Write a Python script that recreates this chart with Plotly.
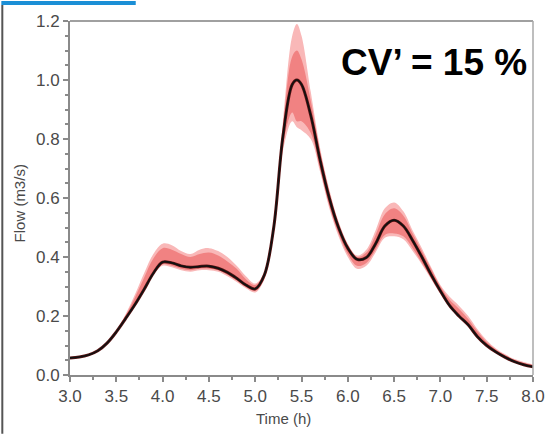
import plotly.graph_objects as go

# ---- data ----
time_h = [3.0, 3.1, 3.2, 3.3, 3.4, 3.5, 3.6, 3.7, 3.8, 3.9,
          4.0, 4.1, 4.2, 4.3, 4.4, 4.5, 4.6, 4.7, 4.8, 4.9,
          5.0, 5.1, 5.2, 5.3, 5.4, 5.45, 5.5, 5.6, 5.7, 5.8, 5.9,
          6.0, 6.1, 6.2, 6.3, 6.4, 6.5, 6.6, 6.7, 6.8, 6.9,
          7.0, 7.1, 7.2, 7.3, 7.4, 7.5, 7.6, 7.7, 7.8, 7.9, 8.0]

flow_mean = [0.058, 0.061, 0.068, 0.082, 0.108, 0.146, 0.191, 0.238, 0.290, 0.345,
             0.383, 0.380, 0.370, 0.365, 0.368, 0.369, 0.362, 0.348, 0.328, 0.305,
             0.292, 0.340, 0.500, 0.810, 0.985, 1.000, 0.985, 0.880, 0.730, 0.600, 0.500,
             0.430, 0.392, 0.398, 0.445, 0.505, 0.525, 0.505, 0.456, 0.400, 0.340,
             0.285, 0.235, 0.200, 0.170, 0.130, 0.100, 0.078, 0.060, 0.045, 0.035, 0.028]

upper_outer = [0.058, 0.061, 0.068, 0.083, 0.110, 0.151, 0.206, 0.272, 0.345, 0.410,
               0.445, 0.440, 0.420, 0.410, 0.425, 0.430, 0.420, 0.400, 0.370, 0.335,
               0.310, 0.350, 0.520, 0.860, 1.150, 1.190, 1.150, 0.960, 0.770, 0.630, 0.520,
               0.445, 0.405, 0.425, 0.490, 0.565, 0.585, 0.555, 0.490, 0.430, 0.365,
               0.305, 0.265, 0.235, 0.200, 0.155, 0.118, 0.090, 0.070, 0.054, 0.044, 0.036]

upper_inner = [0.058, 0.061, 0.068, 0.082, 0.109, 0.149, 0.201, 0.262, 0.330, 0.395,
               0.430, 0.425, 0.410, 0.400, 0.410, 0.415, 0.405, 0.385, 0.360, 0.325,
               0.305, 0.345, 0.510, 0.840, 1.080, 1.100, 1.070, 0.930, 0.760, 0.620, 0.510,
               0.440, 0.400, 0.415, 0.475, 0.545, 0.565, 0.540, 0.480, 0.420, 0.360,
               0.300, 0.255, 0.225, 0.190, 0.148, 0.112, 0.086, 0.067, 0.051, 0.041, 0.034]

lower_inner = [0.058, 0.061, 0.068, 0.082, 0.108, 0.145, 0.191, 0.238, 0.290, 0.345,
               0.375, 0.370, 0.360, 0.355, 0.360, 0.360, 0.355, 0.340, 0.320, 0.298,
               0.285, 0.330, 0.490, 0.780, 0.890, 0.860, 0.860, 0.820, 0.700, 0.575, 0.480,
               0.410, 0.370, 0.380, 0.425, 0.475, 0.480, 0.470, 0.430, 0.380, 0.330,
               0.280, 0.232, 0.197, 0.166, 0.127, 0.098, 0.076, 0.058, 0.044, 0.034, 0.027]

lower_outer = [0.057, 0.060, 0.067, 0.081, 0.107, 0.144, 0.189, 0.235, 0.285, 0.340,
               0.370, 0.365, 0.355, 0.350, 0.355, 0.355, 0.350, 0.335, 0.315, 0.294,
               0.280, 0.325, 0.480, 0.760, 0.860, 0.840, 0.830, 0.800, 0.690, 0.565, 0.470,
               0.400, 0.360, 0.370, 0.415, 0.465, 0.470, 0.460, 0.420, 0.375, 0.325,
               0.275, 0.230, 0.195, 0.163, 0.125, 0.096, 0.074, 0.057, 0.043, 0.033, 0.026]

x_ticks = [3.0, 3.5, 4.0, 4.5, 5.0, 5.5, 6.0, 6.5, 7.0, 7.5, 8.0]
y_ticks = [0.0, 0.2, 0.4, 0.6, 0.8, 1.0, 1.2]
annotation_text = "CV\u2019 = 15 %"

FONT = "Liberation Sans, Arial, sans-serif"

fig = go.Figure()

# outer (pale) band
fig.add_trace(go.Scatter(x=time_h, y=lower_outer, mode="lines",
                         line=dict(width=0, shape="spline"), showlegend=False, hoverinfo="skip"))
fig.add_trace(go.Scatter(x=time_h, y=upper_outer, mode="lines", fill="tonexty",
                         fillcolor="#f9b8b8",
                         line=dict(width=0, shape="spline"), showlegend=False, hoverinfo="skip"))
# inner (darker) band
fig.add_trace(go.Scatter(x=time_h, y=lower_inner, mode="lines",
                         line=dict(width=0, shape="spline"), showlegend=False, hoverinfo="skip"))
fig.add_trace(go.Scatter(x=time_h, y=upper_inner, mode="lines", fill="tonexty",
                         fillcolor="#f18282",
                         line=dict(width=0, shape="spline"), showlegend=False, hoverinfo="skip"))
# mean line
fig.add_trace(go.Scatter(x=time_h, y=flow_mean, mode="lines",
                         line=dict(color="#5a1414", width=3.0, shape="spline"),
                         showlegend=False, hoverinfo="skip"))
fig.add_trace(go.Scatter(x=time_h, y=flow_mean, mode="lines",
                         line=dict(color="#111111", width=1.6, shape="spline"),
                         showlegend=False, hoverinfo="skip"))

tickfont = dict(family=FONT, size=17, color="#4a4a4a")

fig.update_layout(
    width=557, height=434,
    margin=dict(l=70, r=15, t=20, b=59),
    paper_bgcolor="white", plot_bgcolor="white",
    xaxis=dict(range=[3.0, 8.0], tickvals=x_ticks, ticktext=[f"{v:.1f}" for v in x_ticks],
               showgrid=False, zeroline=False, showline=True, linecolor="#8a8a8a", linewidth=2,
               ticks="outside", ticklen=5, tickwidth=1.5, tickcolor="#8a8a8a",
               minor=dict(dtick=0.25, ticks="outside", ticklen=3, tickcolor="#8a8a8a", tickwidth=1.5),
               tickfont=tickfont, fixedrange=True),
    yaxis=dict(range=[0.0, 1.2], tickvals=y_ticks, ticktext=[f"{v:.1f}" for v in y_ticks],
               showgrid=False, zeroline=False, showline=True, linecolor="#8a8a8a", linewidth=2,
               ticks="outside", ticklen=5, tickwidth=1.5, tickcolor="#8a8a8a",
               minor=dict(dtick=0.05, ticks="outside", ticklen=3, tickcolor="#8a8a8a", tickwidth=1.5),
               tickfont=tickfont, fixedrange=True),
    showlegend=False,
)

# frame top and right
fig.add_shape(type="line", xref="paper", yref="paper", x0=0, x1=1, y0=1, y1=1,
              line=dict(color="#a0a0a0", width=2))
fig.add_shape(type="line", xref="paper", yref="paper", x0=1, x1=1, y0=0, y1=1,
              line=dict(color="#a8a8a8", width=1.5))
# blue strip at top-left of the picture and dark border on the left edge
fig.add_shape(type="rect", xref="paper", yref="paper", x0=-0.1483, x1=0.142, y0=1.045, y1=1.0563,
              line=dict(width=0), fillcolor="#1b8fd6", layer="above")
fig.add_shape(type="line", xref="paper", yref="paper", x0=-0.1462, x1=-0.1462, y0=-0.166, y1=1.045,
              line=dict(color="#555555", width=2))

# axis titles
fig.add_annotation(text="Time (h)", xref="paper", yref="paper", x=(288 - 70) / 472, y=(375 - 419) / 355,
                   showarrow=False, font=dict(family=FONT, size=15, color="#4a4a4a"),
                   xanchor="center", yanchor="middle")
fig.add_annotation(text="Flow (m3/s)", xref="paper", yref="paper", x=(19 - 70) / 472, y=(375 - 203) / 355,
                   showarrow=False, textangle=-90, font=dict(family=FONT, size=15, color="#4a4a4a"),
                   xanchor="center", yanchor="middle")
# CV annotation
fig.add_annotation(text=f"<b>{annotation_text}</b>", xref="paper", yref="paper",
                   x=(441.5 - 70) / 472, y=(375 - 62) / 355, showarrow=False,
                   font=dict(family=FONT, size=37, color="black"),
                   xanchor="center", yanchor="middle")

fig.write_html("out.html", config={"displayModeBar": False},
               post_script="document.body.style.margin='0px';document.body.style.overflow='hidden';")
